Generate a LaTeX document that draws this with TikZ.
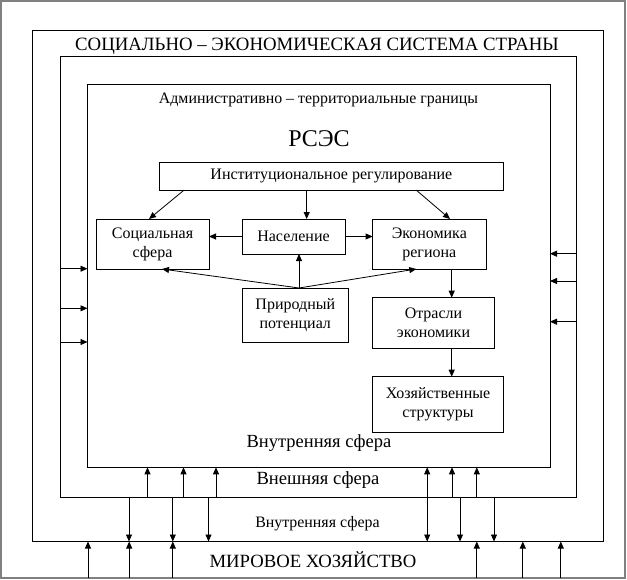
\documentclass[tikz,border=0pt]{standalone}
\usepackage{fontspec}
\setmainfont{Liberation Serif}
\usetikzlibrary{arrows.meta,calc}
\begin{document}
\begin{tikzpicture}[x=1pt,y=-1pt,
  frame/.style={draw,line width=0.8pt,rectangle,outer sep=0pt,inner sep=0pt},
  box/.style={draw,line width=0.8pt,rectangle,outer sep=0pt,inner sep=1pt,align=center,font=\fontsize{16}{19}\selectfont},
  lbl/.style={inner sep=0pt,outer sep=0pt},
  arr/.style={line width=0.8pt,-{Triangle[length=7pt,width=6pt]}}]
\useasboundingbox (0,0) rectangle (627,579);
% frames
\node[frame,draw=gray,line width=1.5pt,minimum width=624pt,minimum height=577pt] (F) at (313,289.5) {};
\node[frame,minimum width=571pt,minimum height=511.5pt] (A) at (317.5,285.75) {};
\node[frame,minimum width=515.2pt,minimum height=440.8pt] (B) at (318.4,277.1) {};
\node[frame,minimum width=462.5pt,minimum height=383.3pt] (C) at (318.75,275.65) {};
% labels
\node[lbl,font=\fontsize{18.8}{20}\selectfont] (tA) at (317,46) {СОЦИАЛЬНО – ЭКОНОМИЧЕСКАЯ СИСТЕМА СТРАНЫ};
\node[lbl,font=\fontsize{15.9}{18}\selectfont] (tC) at (318.5,100) {Административно – территориальные границы};
\node[lbl,font=\fontsize{24}{26}\selectfont] (tR) at (319,139) {РСЭС};
\node[lbl,font=\fontsize{18.5}{20}\selectfont] (tIn) at (319,443) {Внутренняя сфера};
\node[lbl,font=\fontsize{18.6}{20}\selectfont] (tEx) at (318,480.5) {Внешняя сфера};
\node[lbl,font=\fontsize{15.9}{18}\selectfont] (tIn2) at (317.5,523.5) {Внутренняя сфера};
\node[lbl,font=\fontsize{18.7}{20}\selectfont] (tW) at (313,560) {МИРОВОЕ ХОЗЯЙСТВО};
% boxes
\node[box,minimum width=343.6pt,minimum height=27.7pt] (inst) at (331.4,176.2) {Институциональное регулирование};
\node[box,minimum width=113pt,minimum height=50pt] (soc) at (152.5,244) {Социальная\\сфера};
\node[box,minimum width=103pt,minimum height=35pt] (nas) at (293.5,236.5) {Население};
\node[box,minimum width=113.3pt,minimum height=50pt] (eco) at (429.3,244) {Экономика\\региона};
\node[box,minimum width=106.7pt,minimum height=54pt] (prir) at (295.3,315) {Природный\\потенциал};
\node[box,minimum width=121.6pt,minimum height=50.6pt] (otr) at (433.5,323) {Отрасли\\экономики};
\node[box,minimum width=130.6pt,minimum height=55.6pt] (hoz) at (438,404.5) {Хозяйственные\\структуры};
% inner connectors
\draw[arr] ([xshift=24.5pt]inst.south west) -- ([xshift=-3.5pt]soc.north);
\coordinate (a1) at ([xshift=13.2pt]nas.north);
\draw[arr] (a1 |- inst.south) -- (a1);
\draw[arr] ([xshift=-87pt]inst.south east) -- ([xshift=20.7pt]eco.north);
\draw[arr] (nas.west) -- (soc.east |- nas.west);
\draw[arr] (nas.east) -- (eco.west |- nas.east);
\coordinate (p0) at ([xshift=3.7pt]prir.north);
\draw[arr] (p0) -- ([xshift=9.5pt]soc.south);
\draw[arr] (p0) -- (p0 |- nas.south);
\draw[arr] (p0) -- ([xshift=-13pt]eco.south);
\coordinate (e0) at ([xshift=22.4pt]eco.south);
\draw[arr] (e0) -- (e0 |- otr.north);
\draw[arr] (e0 |- otr.south) -- (e0 |- hoz.north);
% side arrows
\foreach \y in {268.7,308.3,342} {
  \coordinate (s) at (0,\y);
  \draw[arr] (s -| B.west) -- (s -| C.west);
}
\foreach \y in {253.7,281,321.7} {
  \coordinate (s) at (0,\y);
  \draw[arr] (s -| B.east) -- (s -| C.east);
}
% bottom arrows
\foreach \x in {147.5,183.5,216,427.2,452,476.8} {
  \coordinate (t) at (\x,0);
  \draw[arr] (t |- B.south) -- (t |- C.south);
}
\foreach \x in {129,172.8,208.5,427.2,460,494} {
  \coordinate (t) at (\x,0);
  \draw[arr] (t |- B.south) -- (t |- A.south);
}
\foreach \x in {88,129.2,172.8,476.8,522.8,560.8} {
  \coordinate (t) at (\x,0);
  \draw[arr] (t |- F.south) -- (t |- A.south);
}
\end{tikzpicture}
\end{document}
